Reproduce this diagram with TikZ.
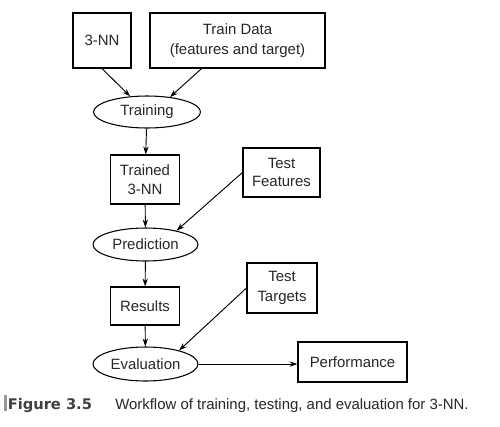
\documentclass[tikz,border=0pt]{standalone}
\usepackage{fontspec}
\setmainfont{Liberation Sans}
\newfontfamily\figfont{DejaVu Sans}
\usetikzlibrary{arrows.meta,shapes.geometric}

\begin{document}
\begin{tikzpicture}[x=0.75pt,y=-0.75pt,>={Stealth[length=6pt,width=4pt]},
	every node/.style={font=\fontsize{11.2}{14}\selectfont, text=black!85},
	box/.style={draw, line width=0.8pt, align=center, inner sep=0pt},
	oval/.style={draw, ellipse, line width=0.8pt, inner sep=0pt},
	flow/.style={->, line width=0.7pt}]
	\useasboundingbox (0,0) rectangle (500,426);

	% The boxes and ovals
	\node[box, minimum width=43.5pt, minimum height=41.25pt] (nn) at (102,40.5) {3-NN};
	\node[box, minimum width=131.25pt, minimum height=41.25pt, font=\fontsize{11.2}{15}\selectfont] (train) at (237.5,40.5) {Train Data\\(features and target)};
	\node[oval, minimum width=80.25pt, minimum height=24pt] (training) at (147,112) {Training};
	\node[box, minimum width=51.75pt, minimum height=36.75pt] (trained) at (145,179.5) {Trained\\3-NN};
	\node[box, minimum width=57.75pt, minimum height=36.75pt] (testf) at (281.5,172.5) {Test\\Features};
	\node[oval, minimum width=78.75pt, minimum height=24.75pt] (prediction) at (145.5,244.5) {Prediction};
	\node[box, minimum width=51.75pt, minimum height=28.5pt] (results) at (145,306) {Results};
	\node[box, minimum width=52.5pt, minimum height=37.5pt, font=\fontsize{11.2}{15}\selectfont] (testt) at (282,288) {Test\\Targets};
	\node[oval, minimum width=78.75pt, minimum height=25.5pt] (evaluation) at (145.5,364) {Evaluation};
	\node[box, minimum width=81.75pt, minimum height=30pt] (perf) at (352.5,362) {Performance};

	% The arrows
	\draw[flow] (nn.south) -- (training.137);
	\draw[flow] (train.218) -- (training.33);
	\draw[flow] (training) -- (trained);
	\draw[flow] (trained) -- (prediction);
	\draw[flow] (testf.west) -- (prediction.24);
	\draw[flow] (prediction) -- (results);
	\draw[flow] (results) -- (evaluation);
	\draw[flow] (testt.west) -- (evaluation.22);
	\draw[flow] (evaluation.east) -- (evaluation.east -| perf.west);

	% The caption
	\fill[black!40] (4,395) rectangle (6.5,411);
	\node[anchor=base west, inner sep=0pt, text=black!75, font=\figfont\bfseries\fontsize{11}{13}\selectfont] (fig) at (7.5,409) {Figure 3.5};
	\node[anchor=base west, inner sep=0pt] (caption) at (115,409) {Workflow of training, testing, and evaluation for 3-NN.};
\end{tikzpicture}
\end{document}
